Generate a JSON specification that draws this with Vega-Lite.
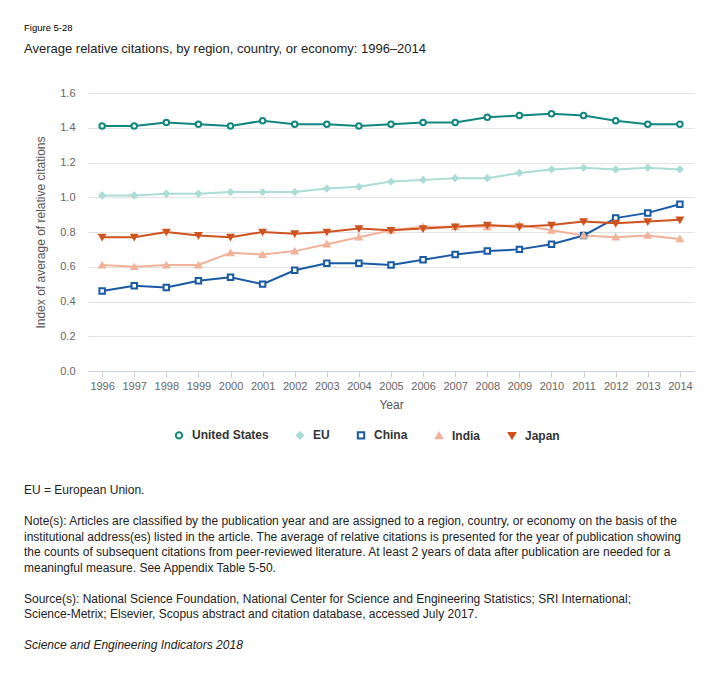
{
  "$schema": "https://vega.github.io/schema/vega-lite/v6.json",
  "background": "white",
  "padding": {"left": 24, "top": 22, "right": 5, "bottom": 5},
  "config": {"font": "Liberation Sans", "view": {"stroke": null}, "concat": {"spacing": 41}},
  "resolve": {
    "scale": {"stroke": "independent", "fill": "independent", "shape": "independent", "x": "independent", "y": "independent"},
    "legend": {"stroke": "independent", "fill": "independent", "shape": "independent"}
  },
  "datasets": {
    "citations": [
      {"year": "1996", "region": "United States", "value": 1.41},
      {"year": "1997", "region": "United States", "value": 1.41},
      {"year": "1998", "region": "United States", "value": 1.43},
      {"year": "1999", "region": "United States", "value": 1.42},
      {"year": "2000", "region": "United States", "value": 1.41},
      {"year": "2001", "region": "United States", "value": 1.44},
      {"year": "2002", "region": "United States", "value": 1.42},
      {"year": "2003", "region": "United States", "value": 1.42},
      {"year": "2004", "region": "United States", "value": 1.41},
      {"year": "2005", "region": "United States", "value": 1.42},
      {"year": "2006", "region": "United States", "value": 1.43},
      {"year": "2007", "region": "United States", "value": 1.43},
      {"year": "2008", "region": "United States", "value": 1.46},
      {"year": "2009", "region": "United States", "value": 1.47},
      {"year": "2010", "region": "United States", "value": 1.48},
      {"year": "2011", "region": "United States", "value": 1.47},
      {"year": "2012", "region": "United States", "value": 1.44},
      {"year": "2013", "region": "United States", "value": 1.42},
      {"year": "2014", "region": "United States", "value": 1.42},
      {"year": "1996", "region": "EU", "value": 1.01},
      {"year": "1997", "region": "EU", "value": 1.01},
      {"year": "1998", "region": "EU", "value": 1.02},
      {"year": "1999", "region": "EU", "value": 1.02},
      {"year": "2000", "region": "EU", "value": 1.03},
      {"year": "2001", "region": "EU", "value": 1.03},
      {"year": "2002", "region": "EU", "value": 1.03},
      {"year": "2003", "region": "EU", "value": 1.05},
      {"year": "2004", "region": "EU", "value": 1.06},
      {"year": "2005", "region": "EU", "value": 1.09},
      {"year": "2006", "region": "EU", "value": 1.10},
      {"year": "2007", "region": "EU", "value": 1.11},
      {"year": "2008", "region": "EU", "value": 1.11},
      {"year": "2009", "region": "EU", "value": 1.14},
      {"year": "2010", "region": "EU", "value": 1.16},
      {"year": "2011", "region": "EU", "value": 1.17},
      {"year": "2012", "region": "EU", "value": 1.16},
      {"year": "2013", "region": "EU", "value": 1.17},
      {"year": "2014", "region": "EU", "value": 1.16},
      {"year": "1996", "region": "China", "value": 0.46},
      {"year": "1997", "region": "China", "value": 0.49},
      {"year": "1998", "region": "China", "value": 0.48},
      {"year": "1999", "region": "China", "value": 0.52},
      {"year": "2000", "region": "China", "value": 0.54},
      {"year": "2001", "region": "China", "value": 0.50},
      {"year": "2002", "region": "China", "value": 0.58},
      {"year": "2003", "region": "China", "value": 0.62},
      {"year": "2004", "region": "China", "value": 0.62},
      {"year": "2005", "region": "China", "value": 0.61},
      {"year": "2006", "region": "China", "value": 0.64},
      {"year": "2007", "region": "China", "value": 0.67},
      {"year": "2008", "region": "China", "value": 0.69},
      {"year": "2009", "region": "China", "value": 0.70},
      {"year": "2010", "region": "China", "value": 0.73},
      {"year": "2011", "region": "China", "value": 0.78},
      {"year": "2012", "region": "China", "value": 0.88},
      {"year": "2013", "region": "China", "value": 0.91},
      {"year": "2014", "region": "China", "value": 0.96},
      {"year": "1996", "region": "India", "value": 0.61},
      {"year": "1997", "region": "India", "value": 0.60},
      {"year": "1998", "region": "India", "value": 0.61},
      {"year": "1999", "region": "India", "value": 0.61},
      {"year": "2000", "region": "India", "value": 0.68},
      {"year": "2001", "region": "India", "value": 0.67},
      {"year": "2002", "region": "India", "value": 0.69},
      {"year": "2003", "region": "India", "value": 0.73},
      {"year": "2004", "region": "India", "value": 0.77},
      {"year": "2005", "region": "India", "value": 0.81},
      {"year": "2006", "region": "India", "value": 0.83},
      {"year": "2007", "region": "India", "value": 0.83},
      {"year": "2008", "region": "India", "value": 0.83},
      {"year": "2009", "region": "India", "value": 0.84},
      {"year": "2010", "region": "India", "value": 0.81},
      {"year": "2011", "region": "India", "value": 0.78},
      {"year": "2012", "region": "India", "value": 0.77},
      {"year": "2013", "region": "India", "value": 0.78},
      {"year": "2014", "region": "India", "value": 0.76},
      {"year": "1996", "region": "Japan", "value": 0.77},
      {"year": "1997", "region": "Japan", "value": 0.77},
      {"year": "1998", "region": "Japan", "value": 0.80},
      {"year": "1999", "region": "Japan", "value": 0.78},
      {"year": "2000", "region": "Japan", "value": 0.77},
      {"year": "2001", "region": "Japan", "value": 0.80},
      {"year": "2002", "region": "Japan", "value": 0.79},
      {"year": "2003", "region": "Japan", "value": 0.80},
      {"year": "2004", "region": "Japan", "value": 0.82},
      {"year": "2005", "region": "Japan", "value": 0.81},
      {"year": "2006", "region": "Japan", "value": 0.82},
      {"year": "2007", "region": "Japan", "value": 0.83},
      {"year": "2008", "region": "Japan", "value": 0.84},
      {"year": "2009", "region": "Japan", "value": 0.83},
      {"year": "2010", "region": "Japan", "value": 0.84},
      {"year": "2011", "region": "Japan", "value": 0.86},
      {"year": "2012", "region": "Japan", "value": 0.85},
      {"year": "2013", "region": "Japan", "value": 0.86},
      {"year": "2014", "region": "Japan", "value": 0.87}
    ],
    "notes": [
      {"line": 0, "part": "note", "text": "EU = European Union."},
      {"line": 2, "part": "note", "text": "Note(s): Articles are classified by the publication year and are assigned to a region, country, or economy on the basis of the"},
      {"line": 3, "part": "note", "text": "institutional address(es) listed in the article. The average of relative citations is presented for the year of publication showing"},
      {"line": 4, "part": "note", "text": "the counts of subsequent citations from peer-reviewed literature. At least 2 years of data after publication are needed for a"},
      {"line": 5, "part": "note", "text": "meaningful measure. See Appendix Table 5-50."},
      {"line": 7, "part": "note", "text": "Source(s): National Science Foundation, National Center for Science and Engineering Statistics; SRI International;"},
      {"line": 8, "part": "note", "text": "Science-Metrix; Elsevier, Scopus abstract and citation database, accessed July 2017."},
      {"line": 10, "part": "credit", "text": "Science and Engineering Indicators 2018"}
    ]
  },
  "vconcat": [
    {
      "width": 606,
      "height": 278,
      "title": {
        "text": "Figure 5-28",
        "subtitle": "Average relative citations, by region, country, or economy: 1996–2014",
        "anchor": "start",
        "frame": "group",
        "dx": -64,
        "fontSize": 9.5,
        "fontWeight": "normal",
        "color": "#000",
        "subtitleFontSize": 13,
        "subtitleColor": "#222",
        "subtitlePadding": 11,
        "offset": 31
      },
      "data": {"name": "citations"},
      "encoding": {
        "x": {
          "field": "year",
          "type": "ordinal",
          "scale": {"type": "point", "padding": 0.44},
          "axis": {
            "title": "Year",
            "labelAngle": 0,
            "labelColor": "#666",
            "labelFontSize": 11,
            "tickColor": "#c8d2e3",
            "domainColor": "#c8d2e3",
            "tickSize": 6,
            "labelPadding": 3,
            "titleFontWeight": "normal",
            "titleFontSize": 12,
            "titleColor": "#555",
            "titlePadding": 8
          }
        },
        "y": {
          "field": "value",
          "type": "quantitative",
          "scale": {"domain": [0, 1.6]},
          "axis": {
            "title": "Index of average of relative citations",
            "values": [0, 0.2, 0.4, 0.6, 0.8, 1.0, 1.2, 1.4, 1.6],
            "format": ".1f",
            "labelColor": "#666",
            "labelFontSize": 11,
            "labelPadding": 13,
            "domain": false,
            "ticks": false,
            "gridColor": "#e3e3e3",
            "titleFontWeight": "normal",
            "titleFontSize": 12,
            "titleColor": "#555",
            "titlePadding": 12
          }
        }
      },
      "layer": [
        {
          "mark": {"type": "line", "strokeWidth": 2},
          "encoding": {
            "stroke": {
              "field": "region",
              "type": "nominal",
              "scale": {
                "domain": ["United States", "EU", "China", "India", "Japan"],
                "range": ["#12877f", "#abdcd6", "#1a5aa5", "#f2b29a", "#cf531f"]
              },
              "legend": {
                "title": null,
                "orient": "none",
                "legendX": 85,
                "legendY": 336,
                "direction": "horizontal",
                "labelFontWeight": "bold",
                "labelFontSize": 12,
                "labelColor": "#333",
                "labelOffset": 7,
                "symbolStrokeWidth": 2,
                "symbolSize": 40,
                "columnPadding": 23
              }
            }
          }
        },
        {
          "mark": {"type": "point", "size": 30, "strokeWidth": 2, "opacity": 1},
          "encoding": {
            "stroke": {"field": "region", "type": "nominal"},
            "fill": {
              "field": "region",
              "type": "nominal",
              "scale": {
                "domain": ["United States", "EU", "China", "India", "Japan"],
                "range": ["#ffffff", "#abdcd6", "#ffffff", "#f2b29a", "#cf531f"]
              }
            },
            "shape": {
              "field": "region",
              "type": "nominal",
              "scale": {
                "domain": ["United States", "EU", "China", "India", "Japan"],
                "range": ["circle", "diamond", "square", "triangle-up", "triangle-down"]
              }
            }
          }
        }
      ]
    },
    {
      "width": 606,
      "height": 155,
      "data": {"name": "notes"},
      "encoding": {
        "x": {"datum": 0, "type": "quantitative", "scale": {"domain": [0, 1]}, "axis": null},
        "y": {"field": "line", "type": "quantitative", "scale": {"domain": [0, 10], "reverse": true}, "axis": null},
        "text": {"field": "text"}
      },
      "layer": [
        {
          "transform": [{"filter": "datum.part !== 'credit'"}],
          "mark": {"type": "text", "align": "left", "baseline": "middle", "dx": -64, "fontSize": 12, "color": "#222"}
        },
        {
          "transform": [{"filter": "datum.part === 'credit'"}],
          "mark": {"type": "text", "align": "left", "baseline": "middle", "dx": -64, "fontSize": 12, "fontStyle": "italic", "color": "#222"}
        }
      ]
    }
  ]
}
